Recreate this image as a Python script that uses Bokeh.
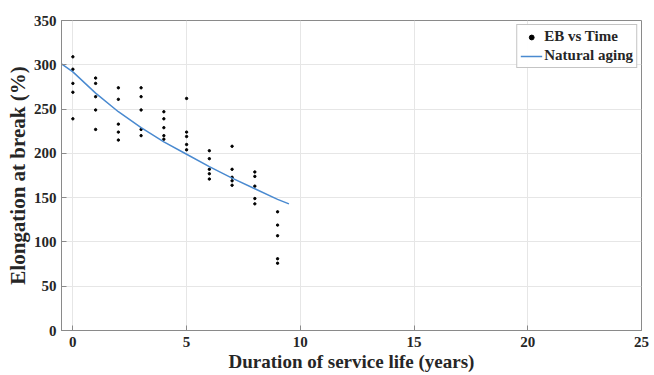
from bokeh.plotting import figure
from bokeh.models import Range1d, Legend, LegendItem, FixedTicker
from bokeh.embed import file_html
from bokeh.resources import INLINE

# Data
years = [0]*5 + [1]*5 + [2]*5 + [3]*5 + [4]*5 + [5]*5 + [6]*5 + [7]*5 + [8]*5 + [9]*5
eb = [309, 295, 279, 269, 239,
      285, 279, 264, 249, 227,
      274, 261, 233, 224, 215,
      274, 264, 249, 227, 220,
      247, 239, 229, 220, 216,
      262, 224, 219, 210, 204,
      203, 194, 182, 177, 171,
      208, 182, 173, 169, 164,
      179, 174, 163, 149, 143,
      134, 119, 107, 81, 76]

fit_x = [-0.5, 0, 1, 2, 3, 4, 5, 6, 7, 8, 9, 9.5]
fit_y = [301, 292, 268, 247, 229, 213, 199, 185, 172, 160, 148, 143]

x_ticks = [0, 5, 10, 15, 20, 25]
y_ticks = [0, 50, 100, 150, 200, 250, 300, 350]

p = figure(width=654, height=375, output_backend="svg", toolbar_location=None,
           x_range=Range1d(-0.5, 25), y_range=Range1d(0, 350),
           min_border_left=61, min_border_right=13, min_border_top=20, min_border_bottom=45)

dots = p.scatter(years, eb, size=2.4, color="black")
line = p.line(fit_x, fit_y, line_color="#4a8ad0", line_width=1.5)

p.xaxis.ticker = FixedTicker(ticks=x_ticks)
p.yaxis.ticker = FixedTicker(ticks=y_ticks)

for ax in (p.xaxis[0], p.yaxis[0]):
    ax.axis_line_color = "#8a8a8a"
    ax.major_tick_line_color = "#8a8a8a"
    ax.major_tick_in = 5
    ax.major_tick_out = 0
    ax.minor_tick_line_color = None
    ax.major_label_text_font = "Liberation Sans Narrow"
    ax.major_label_text_font_style = "bold"
    ax.major_label_text_font_size = "15px"
    ax.major_label_text_color = "#262626"
    ax.axis_label_text_font = "Liberation Serif"
    ax.axis_label_text_font_style = "bold"
    ax.axis_label_text_color = "#262626"

p.xaxis.axis_label_text_font_size = "19px"
p.yaxis.axis_label_text_font_size = "21px"
p.xaxis.axis_label = "Duration of service life (years)"
p.yaxis.axis_label = "Elongation at break (%)"
p.xaxis.major_label_standoff = 6
p.xaxis.axis_label_standoff = 1
p.yaxis.major_label_standoff = 5
p.yaxis.axis_label_standoff = 1

p.xgrid.grid_line_color = "#e6e6e6"
p.ygrid.grid_line_color = "#e6e6e6"
p.outline_line_color = "#8a8a8a"
p.outline_line_alpha = 1.0

legend = Legend(items=[LegendItem(label="EB vs Time", renderers=[dots]),
                       LegendItem(label="Natural aging", renderers=[line])],
                location="top_right")
legend.label_text_font = "Liberation Serif"
legend.label_text_font_style = "bold"
legend.label_text_font_size = "15px"
legend.label_text_color = "#262626"
legend.border_line_color = "#8a8a8a"
legend.glyph_width = 22
legend.glyph_height = 12
legend.label_height = 12
legend.spacing = 2
legend.padding = 3
legend.margin = 4
legend.label_standoff = 2
p.add_layout(legend)

open("out.html", "w").write(file_html(p, INLINE))
